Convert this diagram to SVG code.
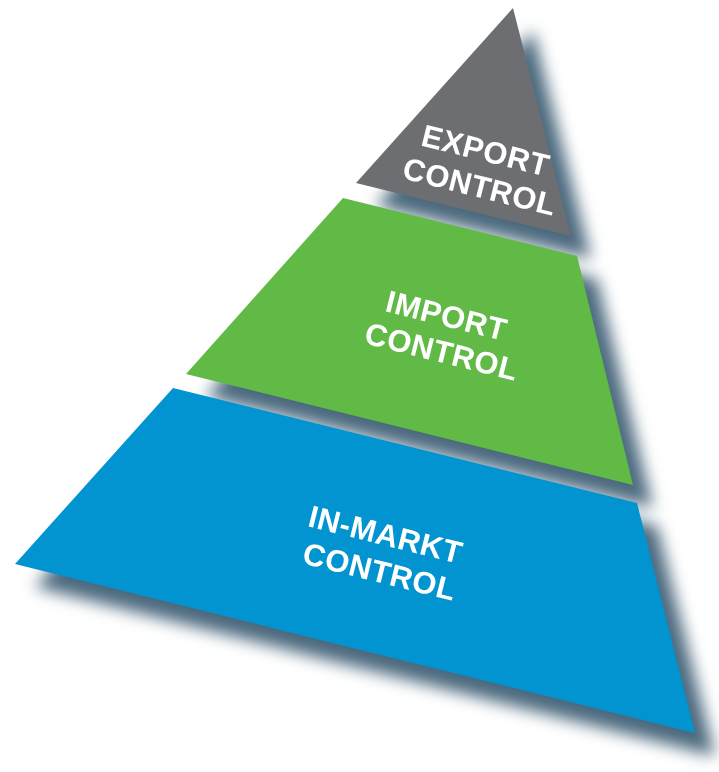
<svg xmlns="http://www.w3.org/2000/svg" width="719" height="772" viewBox="0 0 719 772">
<defs>
<style>
.lbl{font-family:"Liberation Sans",Arial,sans-serif;font-weight:bold;font-size:31px;fill:#ffffff;text-anchor:middle;letter-spacing:0.5px}
</style>
<filter id="sh" x="-20%" y="-20%" width="150%" height="150%" color-interpolation-filters="sRGB">
<feGaussianBlur in="SourceAlpha" stdDeviation="8" result="b"/>
<feOffset in="b" dx="20" dy="23" result="o"/>
<feFlood flood-color="#4b697e"/>
<feComposite in2="o" operator="in" result="s"/>
<feMerge><feMergeNode in="s"/><feMergeNode in="SourceGraphic"/></feMerge>
</filter>
</defs>
<rect width="719" height="772" fill="#ffffff"/>
<g filter="url(#sh)">
<g id="export">
<polygon points="513,8 571,236 356,183" fill="#6d6e71"/>
<text class="lbl" transform="translate(483,161) rotate(14)">EXPORT</text>
<text class="lbl" transform="translate(477,197) rotate(14)">CONTROL</text>
</g>
<g id="import">
<polygon points="343,198 577,256 633,485 186,374" fill="#61b946"/>
<text class="lbl" transform="translate(444,326) rotate(14)">IMPORT</text>
<text class="lbl" transform="translate(439,362) rotate(14)">CONTROL</text>
</g>
<g id="inmarkt">
<polygon points="173,388 637,503 695,733 15,564" fill="#0194d0"/>
<text class="lbl" transform="translate(383,545) rotate(14)">IN-MARKT</text>
<text class="lbl" transform="translate(377,582) rotate(14)">CONTROL</text>
</g>
</g>
<g id="connectors"/>
</svg>
